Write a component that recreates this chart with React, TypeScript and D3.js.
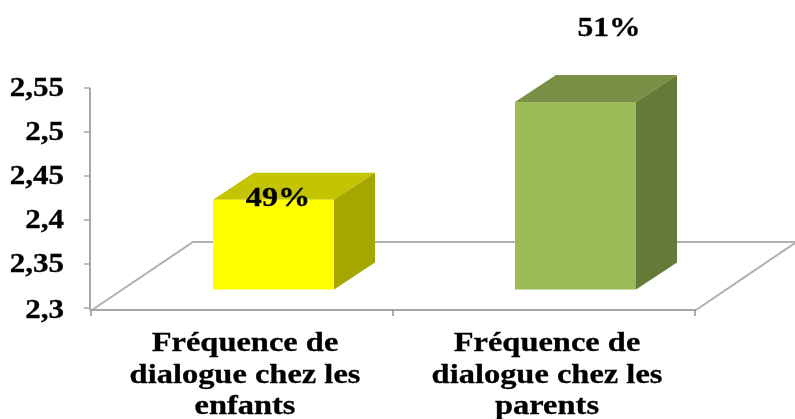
import React from "react";
import * as d3 from "d3";

const categories = ["enfants", "parents"];
const categoryLines = [
  ["Fréquence de", "dialogue chez les", "enfants"],
  ["Fréquence de", "dialogue chez les", "parents"],
];
const values = [2.402, 2.513];
const percentLabels = ["49%", "51%"];
const tickValues = [2.3, 2.35, 2.4, 2.45, 2.5, 2.55];
const tickLabels = ["2,3", "2,35", "2,4", "2,45", "2,5", "2,55"];
const frontColors = ["#ffff00", "#9bbb59"];
const topColors = ["#c4c400", "#7a9046"];
const sideColors = ["#a6a600", "#667a37"];

const FONT = "'Liberation Serif', serif";
const W = 795, H = 419;
const y = d3.scaleLinear().domain([2.3, 2.55]).range([308, 88]);
const x = d3.scaleBand<number>().domain([0, 1]).range([92, 696]).paddingInner(0).paddingOuter(0);
const floorDx = 101, floorDy = 68;
const barW = 121, barDx = 41, barDy = 27, barLift = 18.5, barShift = 30.5;

// Horizontally stretched serif text, as in the source image.
function WideText({ tx, ty, anchor, size, sx, children }: any) {
  return (
    <text transform={`translate(${tx},${ty}) scale(${sx},1)`} textAnchor={anchor}
      fontFamily={FONT} fontWeight="bold" fontSize={size} fill="#000"
      stroke="#000" strokeWidth={0.3} filter="url(#soft)">{children}</text>
  );
}

export default function App() {
  const x0 = x.range()[0], x1 = x.range()[1], y0 = y(2.3);
  const floorPath = d3.path();
  floorPath.moveTo(x0, y0 + 2);
  floorPath.lineTo(x0 + floorDx, y0 + 2 - floorDy);
  floorPath.lineTo(W, y0 + 2 - floorDy);
  const floorPath2 = d3.path();
  floorPath2.moveTo(x1, y0 + 2);
  floorPath2.lineTo(W, y0 + 2 - floorDy + 1);
  return (
    <svg width={W} height={H} viewBox={`0 0 ${W} ${H}`}
      style={{ position: "absolute", left: 0, top: 0, background: "#fff" }}>
      <defs>
        <filter id="soft" x="-5%" y="-10%" width="110%" height="120%">
          <feGaussianBlur stdDeviation="0.4" />
        </filter>
      </defs>
      <path d={floorPath.toString()} fill="none" stroke="#b0b0b0" strokeWidth={2} />
      <path d={floorPath2.toString()} fill="none" stroke="#b0b0b0" strokeWidth={2} />
      <line x1={x0 - 2} x2={x0 - 2} y1={y(2.55)} y2={y0 + 2} stroke="#a6a6a6" strokeWidth={2} />
      <line x1={x0 - 2} x2={x1} y1={y0 + 2} y2={y0 + 2} stroke="#a6a6a6" strokeWidth={2} />
      {tickValues.map((t) => (
        <line key={t} x1={x0 - 8} x2={x0 - 2} y1={y(t)} y2={y(t)} stroke="#a6a6a6" strokeWidth={1.5} />
      ))}
      {[x0, x0 + x.bandwidth(), x1].map((p) => (
        <line key={p} x1={p - 1} x2={p - 1} y1={y0 + 2} y2={y0 + 8} stroke="#909090" strokeWidth={1.5} />
      ))}
      {categories.map((c, i) => {
        const left = x(i)! + x.bandwidth() / 2 + barShift - barW / 2;
        const right = left + barW;
        const top = y(values[i]) - barLift;
        const bottom = y0 - barLift;
        return (
          <g key={c}>
            <polygon points={`${left},${top} ${right},${top} ${right + barDx},${top - barDy} ${left + barDx},${top - barDy}`} fill={topColors[i]} />
            <polygon points={`${right},${top} ${right + barDx},${top - barDy} ${right + barDx},${bottom - barDy} ${right},${bottom}`} fill={sideColors[i]} />
            <rect x={left} y={top} width={barW} height={bottom - top} fill={frontColors[i]} />
          </g>
        );
      })}
      <WideText tx={278} ty={206} anchor="middle" size={28} sx={1.15}>{percentLabels[0]}</WideText>
      <WideText tx={609} ty={36} anchor="middle" size={28} sx={1.13}>{percentLabels[1]}</WideText>
      {tickValues.map((t, i) => (
        <WideText key={t} tx={64} ty={y(t) + (t === 2.3 ? 10 : 8)} anchor="end" size={27} sx={1.15}>{tickLabels[i]}</WideText>
      ))}
      {categoryLines.map((lines, i) =>
        lines.map((l, j) => (
          <WideText key={i + "-" + j} tx={x(i)! + x.bandwidth() / 2 + 2} ty={351 + j * 31.5} anchor="middle" size={28} sx={1.16}>{l}</WideText>
        ))
      )}
    </svg>
  );
}
